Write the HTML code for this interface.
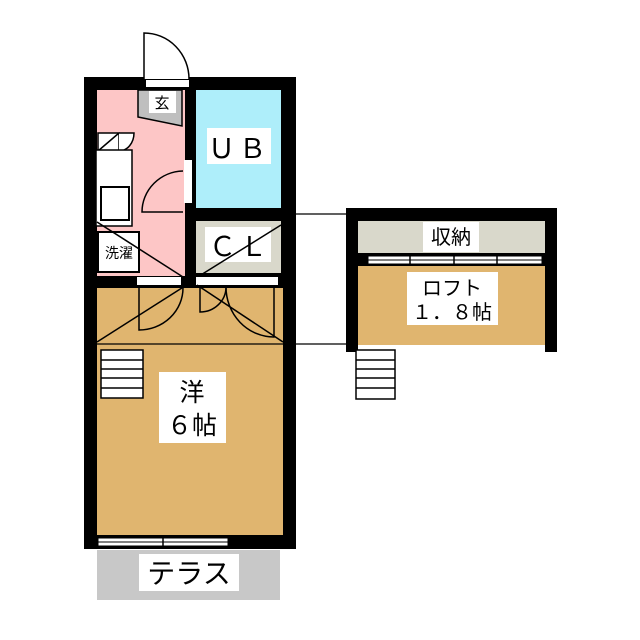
<!DOCTYPE html>
<html><head><meta charset="utf-8"><style>body{margin:0;background:#fff}svg{display:block}text{font-family:"Liberation Sans","Noto Sans CJK JP",sans-serif;fill:#000}</style></head><body>
<svg width="640" height="640" viewBox="0 0 640 640" xmlns="http://www.w3.org/2000/svg">
<rect x="84" y="77" width="212" height="472" fill="#000"/>
<rect x="97" y="90" width="88" height="186" fill="#fdc6c6"/>
<polygon points="138,90 182,90 182,126 138,117" fill="#bfbfbf" stroke="#000" stroke-width="1.5"/>
<rect x="149" y="91" width="27" height="22" fill="#fff"/>
<text x="162" y="108" font-size="15" text-anchor="middle">玄</text>
<rect x="196" y="90" width="85" height="118" fill="#aeeefa"/>
<rect x="207" y="128" width="64" height="36" fill="#fff"/>
<text x="239" y="158" font-size="27" text-anchor="middle" letter-spacing="4">ＵＢ</text>
<rect x="196" y="221" width="85" height="52" fill="#d9d8cb"/>
<rect x="205" y="227" width="66" height="35" fill="#fff"/>
<text x="240" y="256" font-size="27" text-anchor="middle" letter-spacing="4">ＣＬ</text>
<line x1="196" y1="278" x2="281" y2="225" stroke="#000" stroke-width="1.5"/>
<rect x="97" y="288" width="186" height="247" fill="#e0b56f"/>
<rect x="137" y="277" width="44" height="8" fill="#fff"/>
<rect x="196" y="277" width="82" height="8" fill="#fff"/>
<rect x="146" y="80" width="43" height="7" fill="#fff"/>
<path d="M144,79 L144,33 A45,46 0 0 1 189,79" fill="#fff" stroke="#000" stroke-width="1.5"/>
<polygon points="98,133 119,133 119,151 98,151" fill="#fff" stroke="#000" stroke-width="1.5"/>
<line x1="98" y1="151" x2="119" y2="133" stroke="#000" stroke-width="1.5"/>
<path d="M119,133 L134,133 A15,18 0 0 1 119,151" fill="#fff" stroke="#000" stroke-width="1.5"/>
<rect x="96" y="150" width="36" height="76" fill="#fff" stroke="#000" stroke-width="1.5"/>
<rect x="101" y="187" width="28" height="33" fill="#fff" stroke="#000" stroke-width="2"/>
<rect x="98" y="232" width="41" height="40" fill="#fff" stroke="#000" stroke-width="2"/>
<text x="119" y="258" font-size="14" text-anchor="middle">洗濯</text>
<path d="M183,171 A42,41 0 0 0 142,212 L183,212" fill="none" stroke="#000" stroke-width="1.5"/>
<rect x="184" y="160" width="8" height="43" fill="#fff"/>
<line x1="97" y1="222" x2="183" y2="277" stroke="#000" stroke-width="1.5"/>
<path d="M139,287 L139,330 A44,42 0 0 0 183,288" fill="none" stroke="#000" stroke-width="1.5"/>
<line x1="97" y1="342" x2="185" y2="286" stroke="#000" stroke-width="1.5"/>
<path d="M200,287 L200,312 A26,25 0 0 0 226,287" fill="none" stroke="#000" stroke-width="1.5"/>
<path d="M274,287 L274,337 A48,50 0 0 1 226,287" fill="none" stroke="#000" stroke-width="1.5"/>
<line x1="197" y1="285" x2="283" y2="342" stroke="#000" stroke-width="1.5"/>
<line x1="97" y1="344" x2="346" y2="344" stroke="#000" stroke-width="1.2"/>
<line x1="296" y1="214" x2="346" y2="214" stroke="#000" stroke-width="1.2"/>
<rect x="101" y="350" width="42" height="48" fill="#fff" stroke="#000" stroke-width="1.5"/>
<g stroke="#000" stroke-width="1.5"><line x1="101" y1="360" x2="143" y2="360"/><line x1="101" y1="369" x2="143" y2="369"/><line x1="101" y1="378" x2="143" y2="378"/><line x1="101" y1="388" x2="143" y2="388"/></g>
<rect x="159" y="372" width="67" height="71" fill="#fff"/>
<text x="192" y="401" font-size="25" text-anchor="middle">洋</text>
<text x="192" y="434" font-size="25" text-anchor="middle">６帖</text>
<rect x="98" y="538" width="130" height="8" fill="#fff" stroke="#000" stroke-width="1"/>
<line x1="98" y1="542" x2="228" y2="542" stroke="#000" stroke-width="1"/>
<line x1="163" y1="535" x2="163" y2="549" stroke="#000" stroke-width="1.5"/>
<rect x="97" y="550" width="183" height="50" fill="#c8c8c8"/>
<rect x="139" y="554" width="100" height="37" fill="#fff"/>
<text x="189" y="583" font-size="28" text-anchor="middle">テラス</text>
<rect x="346" y="208" width="211" height="144" fill="#000"/>
<rect x="358" y="221" width="187" height="32" fill="#d9d8cb"/>
<rect x="358" y="266" width="187" height="79" fill="#e0b56f"/>
<rect x="358" y="345" width="187" height="10" fill="#fff"/>
<rect x="545" y="345" width="12" height="7" fill="#000"/>
<rect x="423" y="222" width="56" height="30" fill="#fff"/>
<text x="451" y="244" font-size="20" text-anchor="middle">収納</text>
<rect x="368" y="256" width="174" height="8" fill="#fff" stroke="#000" stroke-width="1"/>
<line x1="368" y1="260" x2="542" y2="260" stroke="#000" stroke-width="1"/>
<g stroke="#000" stroke-width="1.5"><line x1="410" y1="254" x2="410" y2="266"/><line x1="454" y1="254" x2="454" y2="266"/><line x1="497" y1="254" x2="497" y2="266"/></g>
<rect x="407" y="272" width="91" height="53" fill="#fff"/>
<text x="452" y="295" font-size="20" text-anchor="middle">ロフト</text>
<text x="452" y="319" font-size="20" text-anchor="middle">１．８帖</text>
<rect x="356" y="350" width="39" height="49" fill="#fff" stroke="#000" stroke-width="1.5"/>
<g stroke="#000" stroke-width="1.5"><line x1="356" y1="360" x2="395" y2="360"/><line x1="356" y1="369" x2="395" y2="369"/><line x1="356" y1="378" x2="395" y2="378"/><line x1="356" y1="388" x2="395" y2="388"/></g>
</svg>
</body></html>
